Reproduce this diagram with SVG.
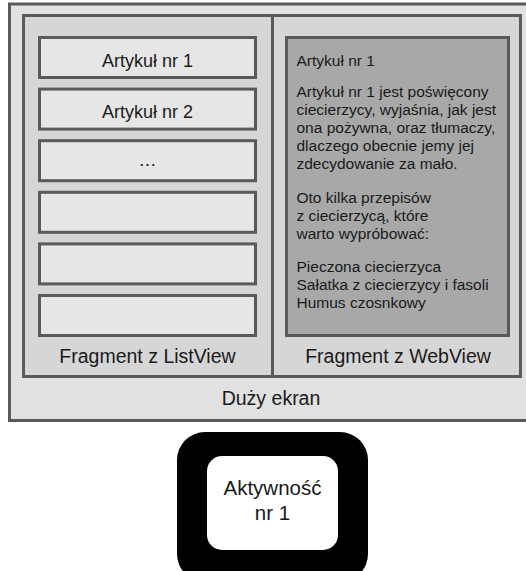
<svg xmlns="http://www.w3.org/2000/svg" width="526" height="571" viewBox="0 0 526 571">
<style>
.box{stroke:#5a5a5a;stroke-width:3}
.t{font-family:"Liberation Sans",Arial,sans-serif;fill:#1a1a1a}
.c{text-anchor:middle}
.item{fill:#e6e6e6}
</style>
<rect width="526" height="571" fill="#ffffff"/>
<g id="duzy-ekran">
<rect class="box" x="9.5" y="4" width="530" height="416.5" fill="#e1e1e1"/>
<text class="t c" x="271" y="405" font-size="19.5">Duży ekran</text>
</g>
<g id="fragmenty">
<rect class="box" x="23.5" y="15.5" width="497" height="361" fill="#d6d6d6"/>
</g>
<g id="connectors">
<line class="box" x1="272.5" y1="15.5" x2="272.5" y2="376.5"/>
</g>
<g id="fragment-listview">
<g id="item1"><rect class="box item" x="39.5" y="37.5" width="216" height="40"/><text class="t c" x="147.5" y="66.5" font-size="18">Artykuł nr 1</text></g>
<g id="item2"><rect class="box item" x="39.5" y="89.1" width="216" height="40"/><text class="t c" x="147.5" y="118.1" font-size="18">Artykuł nr 2</text></g>
<g id="item3"><rect class="box item" x="39.5" y="140.7" width="216" height="40"/><text class="t c" x="147.5" y="166" font-size="18">…</text></g>
<g id="item4"><rect class="box item" x="39.5" y="192.3" width="216" height="40"/></g>
<g id="item5"><rect class="box item" x="39.5" y="243.9" width="216" height="40"/></g>
<g id="item6"><rect class="box item" x="39.5" y="295.5" width="216" height="40"/></g>
<text class="t c" x="147.5" y="363" font-size="19.5">Fragment z ListView</text>
</g>
<g id="fragment-webview">
<rect class="box" x="286.5" y="37.5" width="222" height="298" fill="#a8a8a8"/>
<g class="t" font-size="15.5">
<text x="296.5" y="66">Artykuł nr 1</text>
<text x="296.5" y="97">Artykuł nr 1 jest poświęcony</text>
<text x="296.5" y="115">ciecierzycy, wyjaśnia, jak jest</text>
<text x="296.5" y="133">ona pożywna, oraz tłumaczy,</text>
<text x="296.5" y="151">dlaczego obecnie jemy jej</text>
<text x="296.5" y="169">zdecydowanie za mało.</text>
<text x="296.5" y="203">Oto kilka przepisów</text>
<text x="296.5" y="221">z ciecierzycą, które</text>
<text x="296.5" y="239">warto wypróbować:</text>
<text x="296.5" y="272">Pieczona ciecierzyca</text>
<text x="296.5" y="290">Sałatka z ciecierzycy i fasoli</text>
<text x="296.5" y="308">Humus czosnkowy</text>
</g>
<text class="t c" x="398" y="363" font-size="19.5">Fragment z WebView</text>
</g>
<g id="aktywnosc">
<rect x="177" y="432" width="191" height="150" rx="28" fill="#000000"/>
<rect x="207" y="456" width="131" height="94" rx="15" fill="#ffffff"/>
<text class="t c" x="272.5" y="495" font-size="20.5">Aktywność</text>
<text class="t c" x="272.5" y="520" font-size="20.5">nr 1</text>
</g>
</svg>
